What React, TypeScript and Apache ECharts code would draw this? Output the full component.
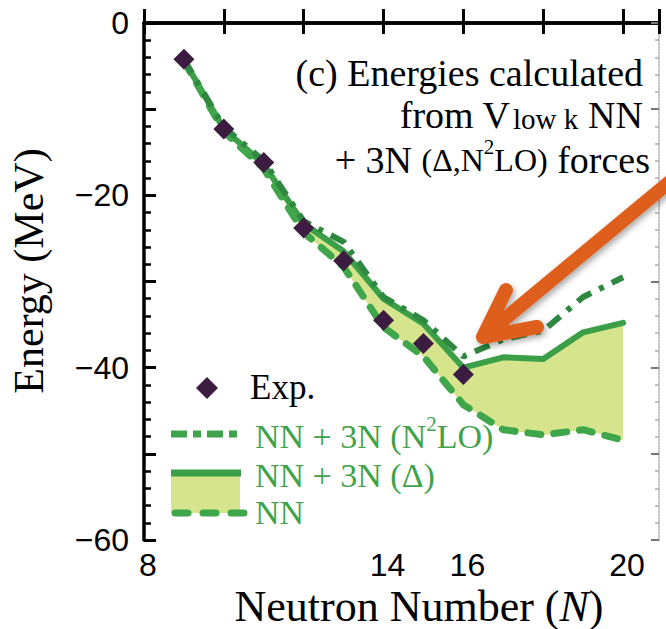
import React, { useEffect, useRef } from 'react';
import * as echarts from 'echarts';

// Neutron number N for the calculated curves
const neutronNumbers = [9, 10, 11, 12, 13, 14, 15, 16, 17, 18, 19, 20];
// Experimental points
const expN = [9, 10, 11, 12, 13, 14, 15, 16];
const expEnergy = [-4.2, -12.3, -16.2, -23.8, -27.6, -34.5, -37.2, -40.8];
// Calculated energies (MeV)
const nnEnergy = [-4.4, -12.6, -16.9, -24.3, -28.3, -35.3, -38.7, -44.3, -47.2, -47.8, -47.2, -48.4];
const deltaEnergy = [-4.3, -12.3, -16.4, -23.3, -26.5, -32.0, -34.9, -40.0, -38.8, -39.0, -35.9, -34.8];
const n2loEnergy = [-4.2, -12.1, -16.0, -23.0, -25.4, -31.8, -34.5, -38.7, -36.7, -35.7, -31.8, -29.5];
// Tick labels shown
const xTickLabels = [8, 14, 16, 20];
const yTickLabels = [0, -20, -40, -60];

export default function App() {
  const ref = useRef<HTMLDivElement>(null);
  useEffect(() => {
    if (!ref.current) return;
    const chart = echarts.init(ref.current, null, { renderer: 'svg' });
    const serif = 'Liberation Serif';
    const sans = 'Liberation Sans';
    const solidGreen = '#3b9f48';
    const dashGreen = '#40a64c';
    const darkGreen = '#2f8840';
    const fillColor = '#d6e48e';
    const textGreen = '#3fa34c';
    const purple = '#3c1c40';
    const orange = '#de5f1f';

    const pairs = (ys: number[]) => neutronNumbers.map((n, i) => [n, ys[i]]);

    const xCommon: any = {
      type: 'value', min: 8, max: 20.9, interval: 2,
      splitLine: { show: false },
    };
    const yCommon: any = {
      type: 'value', min: -60, max: 0, interval: 10,
      splitLine: { show: false }, minorSplitLine: { show: false },
    };

    const option: any = {
      animation: false,
      backgroundColor: '#fff',
      grid: { left: 144, right: 3, top: 23, bottom: 89 },
      xAxis: [
        {
          ...xCommon, position: 'bottom',
          axisLine: { lineStyle: { color: '#000', width: 3.5 } },
          axisTick: { inside: true, length: 14, lineStyle: { color: '#000', width: 3 } },
          axisLabel: {
            margin: 9, fontSize: 32, lineHeight: 32, fontFamily: sans, color: '#000', hideOverlap: false,
            padding: [0, 0, 0, 8],
            formatter: (v: number) => (xTickLabels.includes(v) ? String(v) : ''),
          },
        },
        {
          ...xCommon, position: 'top',
          axisLine: { lineStyle: { color: '#000', width: 3.5 } },
          axisTick: { inside: true, length: 11, lineStyle: { color: '#000', width: 3 } },
          axisLabel: { show: false },
        },
      ],
      yAxis: [
        {
          ...yCommon, position: 'left',
          axisLine: { lineStyle: { color: '#000', width: 3.5 } },
          axisTick: { inside: true, length: 12, lineStyle: { color: '#000', width: 3 } },
          minorTick: { show: true, splitNumber: 5, length: 7, lineStyle: { color: '#000', width: 2.5 } },
          axisLabel: {
            margin: 15, fontSize: 32, fontFamily: sans, color: '#000',
            formatter: (v: number) =>
              yTickLabels.includes(v) ? (v < 0 ? '\u2212' + Math.abs(v) : String(v)) : '',
          },
        },
        {
          ...yCommon, position: 'right',
          axisLine: { lineStyle: { color: '#b0b0b0', width: 1.5, type: 'dotted' } },
          axisTick: { inside: true, length: 8, lineStyle: { color: '#777', width: 2 } },
          minorTick: { show: true, splitNumber: 5, length: 4, lineStyle: { color: '#aaa', width: 1.5 } },
          axisLabel: { show: false },
        },
      ],
      series: [
        {
          type: 'custom', name: 'band', silent: true, z: 1, clip: true,
          data: neutronNumbers.map((n, i) => [n, nnEnergy[i], deltaEnergy[i]]),
          encode: { x: 0, y: [1, 2] },
          renderItem: (params: any, api: any) => {
            if (params.dataIndex !== 0) return { type: 'group', children: [] };
            const upper = neutronNumbers.map((n, i) => api.coord([n, deltaEnergy[i]]));
            const lower = neutronNumbers.map((n, i) => api.coord([n, nnEnergy[i]])).reverse();
            return {
              type: 'polygon',
              shape: { points: upper.concat(lower) },
              style: { fill: fillColor, stroke: null },
            };
          },
        },
        {
          type: 'line', name: 'NN + 3N (Δ)', data: pairs(deltaEnergy), symbol: 'none',
          lineStyle: { color: solidGreen, width: 6, join: 'round', cap: 'round' }, z: 3,
        },
        {
          type: 'line', name: 'NN', data: pairs(nnEnergy), symbol: 'none',
          lineStyle: { color: dashGreen, width: 7, type: [13, 13], cap: 'round', join: 'round' }, z: 4,
        },
        {
          type: 'line', name: 'NN + 3N (N2LO)', data: pairs(n2loEnergy), symbol: 'none',
          lineStyle: { color: darkGreen, width: 6, type: [16, 9, 5, 9] }, z: 5,
        },
        {
          type: 'scatter', name: 'Exp.', data: expN.map((n, i) => [n, expEnergy[i]]),
          symbol: 'diamond', symbolSize: 21, itemStyle: { color: purple, opacity: 1 }, z: 6,
        },
      ],
      graphic: [
        // orange arrow
        {
          type: 'polyline', z: 100,
          shape: { points: [[506, 290], [483, 337], [537, 327], [483, 337], [720, 140]] },
          style: {
            fill: null, stroke: orange, lineWidth: 14, lineCap: 'round', lineJoin: 'round',
            shadowBlur: 6, shadowColor: 'rgba(0,0,0,0.35)', shadowOffsetX: 2, shadowOffsetY: 3,
          },
        },
        // annotation text
        {
          type: 'text', x: 643, y: 72.5, z: 100,
          style: { text: '(c) Energies calculated', fontFamily: serif, fontSize: 38, fill: '#000', align: 'right', verticalAlign: 'middle' },
        },
        {
          type: 'text', x: 643, y: 115, z: 100,
          style: {
            text: '{m|from V}{s|low k}{m|NN}', align: 'right', verticalAlign: 'middle',
            rich: {
              m: { fontFamily: serif, fontSize: 38, fill: '#000', lineHeight: 36 },
              s: { fontFamily: serif, fontSize: 29, fill: '#000', verticalAlign: 'bottom', padding: [0, 10, 0, 3] },
            },
          },
        },
        {
          type: 'text', x: 650, y: 160, z: 100,
          style: {
            text: '{m|+ 3N }{n|(\u0394,N}{p|2}{n|LO)}{m| forces}', align: 'right', verticalAlign: 'middle',
            rich: {
              m: { fontFamily: serif, fontSize: 38, fill: '#000', lineHeight: 48 },
              n: { fontFamily: serif, fontSize: 32, fill: '#000', lineHeight: 48 },
              p: { fontFamily: serif, fontSize: 21, fill: '#000', verticalAlign: 'top' },
            },
          },
        },
        // legend
        {
          type: 'polygon', z: 100,
          shape: { points: [[207, 377], [218, 388], [207, 399], [196, 388]] },
          style: { fill: purple },
        },
        {
          type: 'text', x: 250, y: 387, z: 100,
          style: { text: 'Exp.', fontFamily: serif, fontSize: 35, fill: '#000', align: 'left', verticalAlign: 'middle' },
        },
        {
          type: 'line', z: 100, shape: { x1: 171, y1: 434, x2: 241, y2: 434 },
          style: { stroke: textGreen, lineWidth: 7, lineDash: [16, 6, 8, 6] },
        },
        {
          type: 'text', x: 255, y: 436, z: 100,
          style: {
            text: '{m|NN + 3N (N}{p|2}{m|LO)}', align: 'left', verticalAlign: 'middle',
            rich: {
              m: { fontFamily: serif, fontSize: 34, fill: textGreen, lineHeight: 46 },
              p: { fontFamily: serif, fontSize: 21, fill: textGreen, verticalAlign: 'top' },
            },
          },
        },
        {
          type: 'rect', z: 99, shape: { x: 171, y: 473, width: 69, height: 40 },
          style: { fill: fillColor },
        },
        {
          type: 'line', z: 100, shape: { x1: 171, y1: 473, x2: 241, y2: 473 },
          style: { stroke: solidGreen, lineWidth: 7 },
        },
        {
          type: 'text', x: 255, y: 475, z: 100,
          style: { text: 'NN + 3N (\u0394)', fontFamily: serif, fontSize: 34, fill: textGreen, align: 'left', verticalAlign: 'middle' },
        },
        {
          type: 'line', z: 100, shape: { x1: 175, y1: 513, x2: 244, y2: 513 },
          style: { stroke: dashGreen, lineWidth: 7, lineDash: [13, 15], lineCap: 'round' },
        },
        {
          type: 'text', x: 255, y: 512, z: 100,
          style: { text: 'NN', fontFamily: serif, fontSize: 34, fill: textGreen, align: 'left', verticalAlign: 'middle' },
        },
        // axis titles
        {
          type: 'text', x: 419, y: 606, z: 100,
          style: {
            text: '{a|Neutron Number (}{i|N}{a|)}', align: 'center', verticalAlign: 'middle',
            rich: {
              a: { fontFamily: serif, fontSize: 44, fill: '#000', lineHeight: 44 },
              i: { fontFamily: serif, fontSize: 44, fontStyle: 'italic', fill: '#000', lineHeight: 44 },
            },
          },
        },
        {
          type: 'text', x: 29, y: 271, rotation: Math.PI / 2, z: 100,
          style: { text: 'Energy (MeV)', fontFamily: serif, fontSize: 42, fill: '#000', align: 'center', verticalAlign: 'middle' },
        },
      ],
    };
    chart.setOption(option);
    return () => chart.dispose();
  }, []);
  return (
    <div
      ref={ref}
      style={{ position: 'fixed', left: 0, top: 0, width: 666, height: 629, background: '#fff' }}
    />
  );
}
